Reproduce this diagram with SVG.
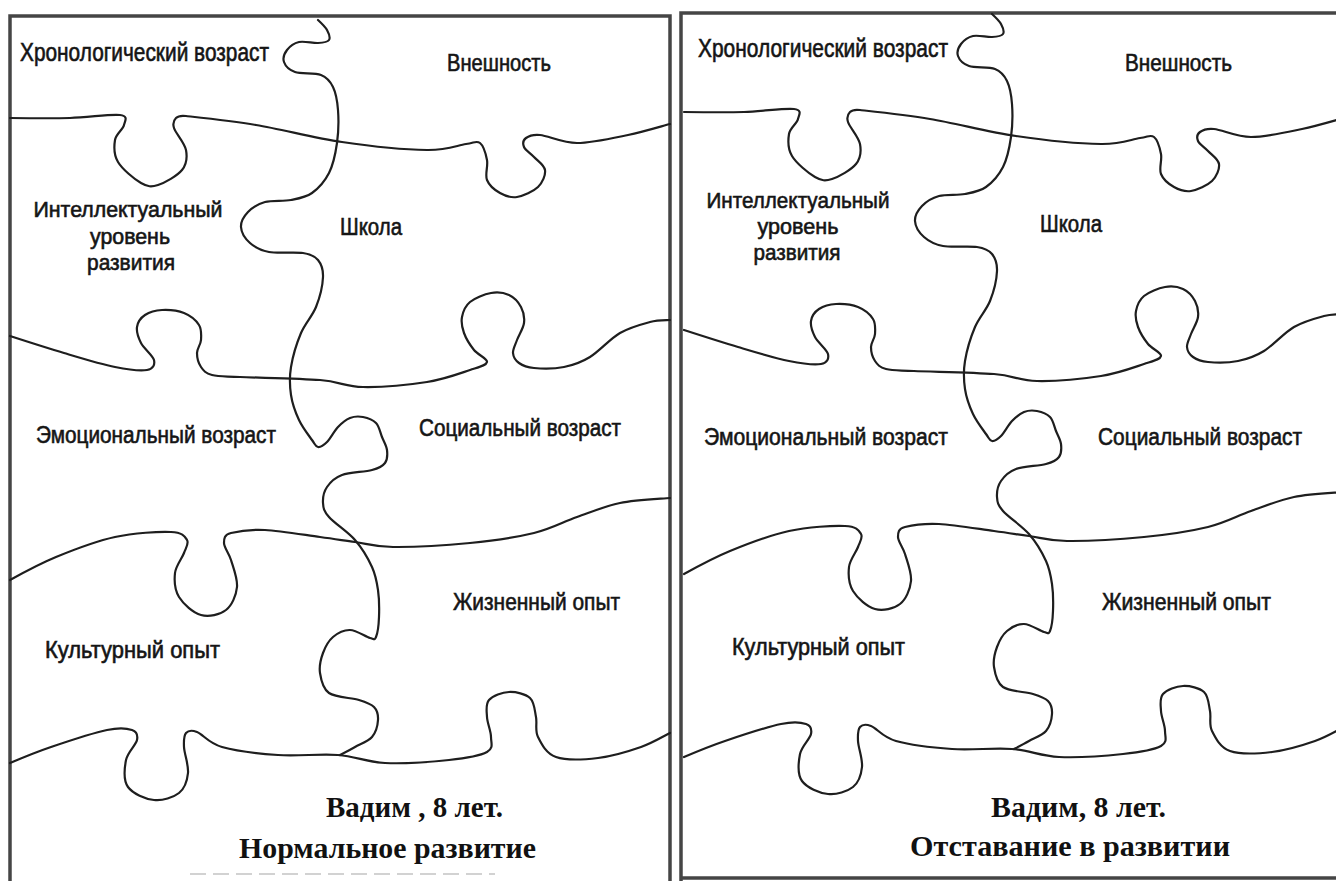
<svg xmlns="http://www.w3.org/2000/svg" xmlns:xlink="http://www.w3.org/1999/xlink" width="1336" height="881" viewBox="0 0 1336 881">
<style>
.frame{fill:none;stroke:#454545;stroke-width:3.5}
.cut{fill:none;stroke:#1e1e1e;stroke-width:2.2;stroke-linecap:round;stroke-linejoin:round}
.lbl{font-family:"Liberation Sans",Arial,sans-serif;font-size:23px;fill:#151515;stroke:#151515;stroke-width:0.6}
.big{font-size:25px}
.sm{font-size:22px}
.cap{font-family:"Liberation Serif","Times New Roman",serif;font-size:29px;font-weight:bold;fill:#111}
</style>
<defs>
<g id="cuts" class="cut">
<path id="h1" d="M10,118 S51.7,118.5 70,118 S111,113.8 120,115 S124.8,120.8 124,125 S116,133.8 115,140 S113.7,154.8 118,162 S134.3,179.2 141,183 S151.2,187.2 158,185 S177.3,175.8 182,170 S187.3,157 186,150 S175.7,133.3 174,128 S174,120 176,118 S182,115.5 186,116 S230,120.7 256,125 S313.5,137.8 342,142 S406.3,149.7 427,150 S457.2,145.2 466,144 S476.5,140.3 480,143 S485.8,153.8 487,160 S484.8,174.5 487,180 S495,190.2 500,193 S510.7,198 517,197 S533.3,191.5 538,187 S545.7,175 545,170 S537.5,160.8 534,157 S525.3,150.2 524,147 S523.3,140 526,138 S531.5,134.2 540,135 S562.3,143 577,143 S612.5,138.2 628,135 S663,125.8 670,124"/>
<path id="v1" d="M318,20 S325.2,26.7 327,30 S330.5,37.8 329,40 S323,42.7 318,43 S304.2,40.8 299,42 S289.5,46.7 287,50 S282.7,58.3 284,62 S288.8,69.8 295,72 S314.7,72.5 321,75 S330.2,81.2 333,87 S337.3,100.7 338,110 S338.5,132.5 337,143 S333.2,164.7 329,173 S318.3,188.5 312,193 S298.8,198.5 291,200 S272.2,200 265,202 S252,207.8 248,212 S240.7,221.8 241,227 S245.3,238.8 250,243 S260.2,250.3 269,252 S294.8,251.7 303,253 S314.7,256 318,260 S323.3,269.2 323,277 S319.7,297.7 316,307 S305.2,323 301,333 S292.7,356.7 291,367 S289.7,386.2 291,395 S295.5,412.5 299,420 S308.8,435.5 312,440 S315.5,446.7 318,447 S323.7,445.3 327,442 S334.2,431 338,427 S345.8,419.7 350,418 S358.7,416.2 363,417 S372.8,419.7 376,423 S380.2,432.5 382,437 S386.5,445.7 387,450 S387.5,459.7 385,463 S379.2,468 372,470 S349.5,472.2 342,475 S330.2,482.3 327,487 S322.7,498 323,503 S323.7,510.8 329,517 S347.8,531.7 355,540 S368.2,558.7 372,567 S376.8,581.7 378,590 S379.3,609.2 379,617 S377.5,633.5 376,637 S374.3,639.2 370,638 S356.2,630.2 350,630 S337.5,633.2 333,637 S325.2,647 323,653 S319,666.3 320,673 S322.5,688.5 329,693 S351.5,697.7 359,700 S370.8,703.7 374,707 S378.3,715 378,720 S375.8,732.5 372,737 S360.3,744 355,747 S342.5,753.7 340,755"/>
<path id="h2" d="M10,336 S46.5,347.8 64,353 S101.2,364.2 115,367 S140.5,371.2 147,370 S155,364.5 154,360 S143.8,348.5 141,343 S136.3,331.7 137,327 S140.8,317.8 145,315 S155.5,310.3 162,310 S177.8,310.5 184,313 S196.2,320.5 199,325 S201.3,335.3 201,340 S197,348.5 197,353 S198.5,363.3 201,367 S205.5,373.3 212,375 S222,376.2 240,377 S299.5,378.3 320,380 S345.2,386.7 363,387 S409.2,384.8 427,382 S460,373.3 470,370 S486.3,365.3 487,362 S477.8,354.8 474,350 S466,338.5 464,333 S461,322.2 462,317 S465.2,306 470,302 S484.5,294.2 491,293 S504,292.7 509,295 S518.5,302.3 521,307 S524.7,317.5 524,323 S518.8,335 517,340 S512.7,349.2 513,353 S515.5,360.5 519,363 S526.5,367.3 534,368 S554.7,368.8 564,367 S580.7,362.7 590,357 S610,338.8 620,333 S641.7,324.2 650,322 S666.7,320.3 670,320"/>
<path id="h3" d="M10,580 S38.5,564.2 56,557 S95.8,541.2 115,537 S159,531.5 171,532 S184.8,536.5 187,540 S186,547.5 184,553 S175.8,565.7 175,573 S174.7,590 179,597 S193.2,612.8 201,615 S220,614.7 226,610 S236.2,595.3 237,587 S233.2,567.3 231,560 S224,547.5 224,543 S224.2,534.7 231,533 S250.2,529.3 265,530 S305,535 320,537 S342.8,540.3 355,542 S373.8,546.8 393,547 S446.5,545.3 470,543 S516.2,537.3 534,533 S562.7,522 577,517 S604.5,506.2 620,503 S661.7,498.8 670,498"/>
<path id="h4" d="M10,763 S34.8,752.5 51,747 S93.5,732.8 107,730 S127,728.3 132,730 S138,735 137,740 S127.5,752.2 126,760 S123.3,780.3 128,787 S145.5,799 154,800 S173.3,797.5 179,793 S187.2,780.7 188,773 S184.3,753.7 184,747 S183.8,735.5 186,733 S191,729.7 197,732 S208.5,743.2 222,747 S258.7,753.7 278,755 S320.2,753.7 338,755 S366.5,762.2 385,763 S432,761.8 449,760 S480,755.8 487,752 S491,742.8 491,737 S487.3,723.2 487,717 S485.3,704.2 489,700 S502.2,692.3 509,692 S525.5,693.8 530,698 S534.7,710.5 536,717 S534.7,730.3 538,737 S546,753.5 556,757 S583.8,759.7 598,758 S629,751.2 641,747 S665.2,735.3 670,733"/>
</g>
</defs>
<rect width="1336" height="881" fill="#ffffff"/>

<g id="panel-normal">
<path class="frame" d="M10,881 V16 H670 V881"/>
<line x1="190" y1="874" x2="495" y2="874" stroke="#c4c4c4" stroke-width="1.5" stroke-dasharray="16 7"/>
<g id="connectors-normal"><use xlink:href="#cuts"/></g>
<g id="n1-chrono"><text class="lbl big" x="20" y="61" textLength="249" lengthAdjust="spacingAndGlyphs">Хронологический возраст</text></g>
<g id="n1-appearance"><text class="lbl" x="447" y="71" textLength="104" lengthAdjust="spacingAndGlyphs">Внешность</text></g>
<g id="n1-intellect">
<text class="lbl sm" x="128" y="217" text-anchor="middle" textLength="189" lengthAdjust="spacingAndGlyphs">Интеллектуальный</text>
<text class="lbl sm" x="130" y="244" text-anchor="middle" textLength="80" lengthAdjust="spacingAndGlyphs">уровень</text>
<text class="lbl sm" x="131" y="270" text-anchor="middle" textLength="88" lengthAdjust="spacingAndGlyphs">развития</text>
</g>
<g id="n1-school"><text class="lbl" x="340" y="235" textLength="62" lengthAdjust="spacingAndGlyphs">Школа</text></g>
<g id="n1-emotional"><text class="lbl" x="36" y="443" textLength="240" lengthAdjust="spacingAndGlyphs">Эмоциональный возраст</text></g>
<g id="n1-social"><text class="lbl" x="419" y="436" textLength="202" lengthAdjust="spacingAndGlyphs">Социальный возраст</text></g>
<g id="n1-life"><text class="lbl" x="453" y="610" textLength="167" lengthAdjust="spacingAndGlyphs">Жизненный опыт</text></g>
<g id="n1-culture"><text class="lbl" x="45" y="658" textLength="175" lengthAdjust="spacingAndGlyphs">Культурный опыт</text></g>
<g id="n1-caption">
<text class="cap" x="326" y="817" textLength="177" lengthAdjust="spacingAndGlyphs">Вадим , 8 лет.</text>
<text class="cap" x="239" y="858" textLength="297" lengthAdjust="spacingAndGlyphs">Нормальное развитие</text>
</g>
</g>

<g id="panel-delay">
<path class="frame" d="M681,881 V13 H1336"/>
<path class="frame" d="M681,878 H1336"/>
<g id="connectors-delay"><use xlink:href="#cuts" transform="translate(674,-6)"/></g>
<g id="n2-chrono"><text class="lbl big" x="698" y="57" textLength="250" lengthAdjust="spacingAndGlyphs">Хронологический возраст</text></g>
<g id="n2-appearance"><text class="lbl" x="1125" y="71" textLength="107" lengthAdjust="spacingAndGlyphs">Внешность</text></g>
<g id="n2-intellect">
<text class="lbl sm" x="798" y="208" text-anchor="middle" textLength="183" lengthAdjust="spacingAndGlyphs">Интеллектуальный</text>
<text class="lbl sm" x="798" y="234" text-anchor="middle" textLength="81" lengthAdjust="spacingAndGlyphs">уровень</text>
<text class="lbl sm" x="797" y="260" text-anchor="middle" textLength="87" lengthAdjust="spacingAndGlyphs">развития</text>
</g>
<g id="n2-school"><text class="lbl" x="1040" y="232" textLength="62" lengthAdjust="spacingAndGlyphs">Школа</text></g>
<g id="n2-emotional"><text class="lbl" x="704" y="445" textLength="244" lengthAdjust="spacingAndGlyphs">Эмоциональный возраст</text></g>
<g id="n2-social"><text class="lbl" x="1098" y="445" textLength="204" lengthAdjust="spacingAndGlyphs">Социальный возраст</text></g>
<g id="n2-life"><text class="lbl" x="1102" y="610" textLength="169" lengthAdjust="spacingAndGlyphs">Жизненный опыт</text></g>
<g id="n2-culture"><text class="lbl" x="732" y="655" textLength="173" lengthAdjust="spacingAndGlyphs">Культурный опыт</text></g>
<g id="n2-caption">
<text class="cap" x="991" y="817" textLength="175" lengthAdjust="spacingAndGlyphs">Вадим, 8 лет.</text>
<text class="cap" x="910" y="856" textLength="320" lengthAdjust="spacingAndGlyphs">Отставание в развитии</text>
</g>
</g>
</svg>
